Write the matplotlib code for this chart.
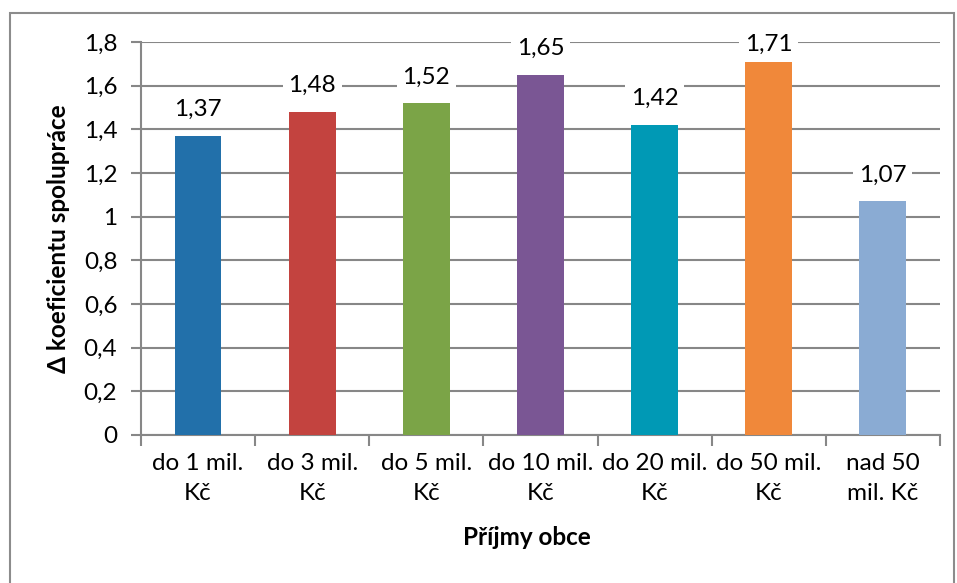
import numpy as np
import matplotlib.pyplot as plt
from matplotlib.patches import Rectangle

categories = ["do 1 mil.\nKč", "do 3 mil.\nKč", "do 5 mil.\nKč", "do 10 mil.\nKč",
              "do 20 mil.\nKč", "do 50 mil.\nKč", "nad 50\nmil. Kč"]
values = [1.37, 1.48, 1.52, 1.65, 1.42, 1.71, 1.07]
colors = ["#2270AA", "#C3433F", "#7BA447", "#7A5694", "#0099B5", "#F0883A", "#8AABD3"]
yticks = [0, 0.2, 0.4, 0.6, 0.8, 1, 1.2, 1.4, 1.6, 1.8]
ytick_labels = ["0", "0,2", "0,4", "0,6", "0,8", "1", "1,2", "1,4", "1,6", "1,8"]

plt.rcParams['font.family'] = ['Lato', 'DejaVu Sans']
grid_color = "#878787"
fs = 17.5

fig = plt.figure(figsize=(9.57, 5.83), dpi=100)
ax = fig.add_axes([0.1473, 0.2539, 0.8349, 0.6741])

# outer chart border (bottom edge falls outside the image)
fig.patches.append(Rectangle((10 / 957, -10 / 583), 944 / 957, 580 / 583,
                             transform=fig.transFigure, fill=False,
                             edgecolor="#8c8c8c", linewidth=1.5))

x = np.arange(len(categories))
ax.bar(x, values, width=0.41, color=colors, zorder=3)

# data labels, kept inside the plot area like Excel does
for xi, v in zip(x, values):
    ax.text(xi, min(v + 0.12, 1.79), f"{v:.2f}".replace(".", ","), ha="center",
            va="center", fontsize=fs, zorder=4,
            bbox=dict(facecolor="white", edgecolor="none", pad=4))

ax.set_xlim(-0.5, len(categories) - 0.5)
ax.set_ylim(0, 1.8)
ax.set_yticks(yticks)
ax.set_yticklabels(ytick_labels, fontsize=fs)
ax.set_xticks(x)
ax.set_xticklabels(categories, fontsize=fs, linespacing=1.5)
ax.set_xticks(np.arange(-0.5, len(categories)), minor=True)
ax.tick_params(axis="x", which="major", length=0, pad=13)
ax.tick_params(axis="x", which="minor", length=8, width=1.5, color=grid_color)
ax.tick_params(axis="y", length=7, width=1.5, color=grid_color, pad=10)

ax.yaxis.grid(True, color=grid_color, linewidth=1.5, zorder=0)
ax.set_axisbelow(True)
for side in ["top", "right"]:
    ax.spines[side].set_visible(False)
for side in ["left", "bottom"]:
    ax.spines[side].set_color(grid_color)
    ax.spines[side].set_linewidth(1.5)

ax.set_xlabel("Příjmy obce", fontsize=fs, fontweight="bold", va="center")
ax.xaxis.set_label_coords(0.4826, -0.262)
ax.set_ylabel("Δ koeficientu spolupráce", fontsize=fs, fontweight="bold", labelpad=10)

fig.savefig("out.png", dpi=100)
